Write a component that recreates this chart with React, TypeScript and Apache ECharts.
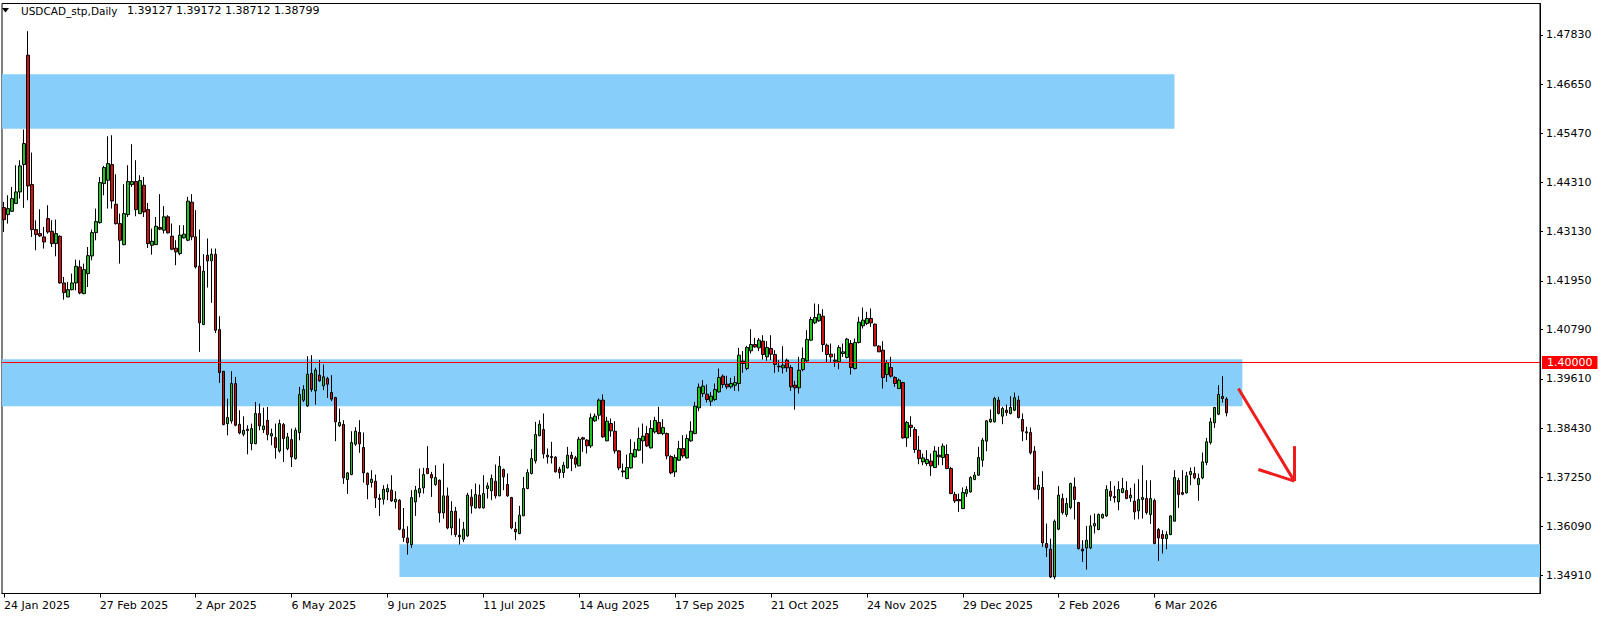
import React, { useEffect, useRef } from "react";
import * as echarts from "echarts";

// ---- Data ----
const SYMBOL = "USDCAD_stp,Daily";
const START_DATE = "2025-01-24";
const HOLIDAYS = ["2025-12-25", "2026-01-01"];
const TOTAL_SLOTS = 385; // bars + empty right margin (chart shift)
const LABEL_STEP = 24;
const MONTHS = ["Jan", "Feb", "Mar", "Apr", "May", "Jun", "Jul", "Aug", "Sep", "Oct", "Nov", "Dec"];

const OPEN = [
  1.43702, 1.43534, 1.43614, 1.43798, 1.44076, 1.4473, 1.47344, 1.44252, 1.43176, 1.4308,
  1.43001, 1.43439, 1.43136, 1.42841, 1.43016, 1.41901, 1.41566, 1.41741, 1.41901, 1.42283,
  1.41646, 1.42124, 1.42546, 1.43104, 1.43343, 1.44276, 1.44355, 1.4473, 1.43782, 1.43319,
  1.42817, 1.43534, 1.44252, 1.44324, 1.43558, 1.44236, 1.43654, 1.42801, 1.42817, 1.43226,
  1.43162, 1.43481, 1.43019, 1.42732, 1.42604, 1.42979, 1.42923, 1.43832, 1.43003, 1.42301,
  1.40907, 1.42564, 1.42429, 1.42588, 1.40787, 1.39791, 1.3854, 1.38603, 1.39496, 1.38524,
  1.38285, 1.38404, 1.38061, 1.38061, 1.38779, 1.38396, 1.38619, 1.38245, 1.38205, 1.37886,
  1.38516, 1.37942, 1.38157, 1.37703, 1.38324, 1.39098, 1.38962, 1.39737, 1.39323, 1.39697,
  1.39442, 1.39618, 1.39283, 1.39163, 1.38486, 1.38518, 1.37203, 1.37322, 1.38048, 1.38327,
  1.37968, 1.37354, 1.37131, 1.37163, 1.36756, 1.36733, 1.36908, 1.36948, 1.36669, 1.36709,
  1.36015, 1.35808, 1.35649, 1.36669, 1.36884, 1.37004, 1.37466, 1.37322, 1.37083, 1.37187,
  1.36406, 1.36812, 1.36047, 1.36446, 1.35872, 1.35777, 1.35857, 1.36781, 1.36526, 1.36829,
  1.36526, 1.36988, 1.36932, 1.37164, 1.36813, 1.37443, 1.37084, 1.36773, 1.36016, 1.35912,
  1.36335, 1.36988, 1.37347, 1.3765, 1.38248, 1.38399, 1.37785, 1.37753, 1.37737, 1.37451,
  1.37371, 1.37482, 1.37785, 1.37721, 1.3753, 1.382, 1.38144, 1.38008, 1.38606, 1.38742,
  1.391, 1.38128, 1.38542, 1.38358, 1.37888, 1.37409, 1.37226, 1.37481, 1.37744, 1.37904,
  1.38127, 1.38302, 1.37959, 1.38342, 1.38565, 1.38302, 1.38302, 1.37752, 1.37386, 1.37664,
  1.37943, 1.3772, 1.38127, 1.38302, 1.38916, 1.39258, 1.39243, 1.39075, 1.39115, 1.39298,
  1.39673, 1.39482, 1.39418, 1.39458, 1.39498, 1.40032, 1.39856, 1.40279, 1.4043, 1.4035,
  1.4051, 1.40135, 1.40334, 1.40191, 1.39912, 1.39872, 1.40055, 1.3988, 1.39458, 1.39394,
  1.39832, 1.40039, 1.40534, 1.40948, 1.40996, 1.41107, 1.40414, 1.40199, 1.40031, 1.40016,
  1.40215, 1.40119, 1.40454, 1.39856, 1.40478, 1.40876, 1.40932, 1.41052, 1.40916, 1.4039,
  1.40295, 1.39713, 1.3988, 1.39641, 1.39378, 1.39521, 1.38198, 1.38501, 1.38398, 1.37903,
  1.37625, 1.37586, 1.37642, 1.3749, 1.37785, 1.37729, 1.37801, 1.37466, 1.36845, 1.36725,
  1.3651, 1.36868, 1.36908, 1.37203, 1.37307, 1.37665, 1.3812, 1.38582, 1.38582, 1.391,
  1.38718, 1.38861, 1.38781, 1.38861, 1.391, 1.38638, 1.38343, 1.38327, 1.37881, 1.36964,
  1.37012, 1.35673, 1.35538, 1.34876, 1.36016, 1.36749, 1.36366, 1.36534, 1.37028, 1.36653,
  1.35537, 1.35569, 1.35569, 1.36095, 1.36008, 1.36286, 1.36334, 1.36924, 1.36797, 1.36669,
  1.36892, 1.3694, 1.36765, 1.36685, 1.36454, 1.36725, 1.36749, 1.36366, 1.36701, 1.36008,
  1.35888, 1.35792, 1.35888, 1.36207, 1.37179, 1.36892, 1.36884, 1.37323, 1.37346, 1.37083,
  1.37243, 1.3761, 1.38088, 1.38558, 1.38765, 1.39188, 1.39127,
];

const HIGH = [
  1.43837, 1.43997, 1.44196, 1.44714, 1.44834, 1.45567, 1.47918, 1.45017, 1.43399, 1.43662,
  1.4324, 1.43758, 1.43399, 1.43415, 1.4304, 1.42044, 1.41925, 1.42124, 1.42459, 1.42443,
  1.42363, 1.42761, 1.43176, 1.43678, 1.44435, 1.44698, 1.45407, 1.45431, 1.44499, 1.43558,
  1.4426, 1.44714, 1.45216, 1.44834, 1.44475, 1.44435, 1.43813, 1.432, 1.43479, 1.44023,
  1.43736, 1.43521, 1.43322, 1.42923, 1.43282, 1.43282, 1.43959, 1.44023, 1.4364, 1.43178,
  1.42588, 1.42963, 1.42724, 1.42724, 1.41106, 1.39791, 1.39137, 1.39791, 1.39655, 1.38858,
  1.38715, 1.385, 1.3854, 1.39058, 1.39018, 1.38922, 1.38938, 1.3842, 1.3854, 1.38635,
  1.38556, 1.38316, 1.3842, 1.38444, 1.39416, 1.39456, 1.4015, 1.40176, 1.39873, 1.40056,
  1.39952, 1.39658, 1.39697, 1.39179, 1.389, 1.38621, 1.37386, 1.38358, 1.38454, 1.38621,
  1.38327, 1.3737, 1.37426, 1.37322, 1.36852, 1.37067, 1.37091, 1.37306, 1.36924, 1.36733,
  1.36525, 1.36087, 1.36948, 1.37051, 1.37466, 1.37482, 1.38, 1.37386, 1.37545, 1.37203,
  1.37585, 1.37012, 1.36685, 1.36549, 1.36271, 1.36191, 1.36885, 1.36972, 1.37108, 1.37084,
  1.37307, 1.37132, 1.37323, 1.37562, 1.37761, 1.37466, 1.37347, 1.36789, 1.36191, 1.36574,
  1.37267, 1.37451, 1.37929, 1.38582, 1.38622, 1.38781, 1.37945, 1.38104, 1.37761, 1.37506,
  1.37626, 1.37984, 1.37865, 1.37769, 1.38224, 1.38224, 1.38168, 1.38781, 1.38781, 1.3914,
  1.39236, 1.38702, 1.38662, 1.38597, 1.37904, 1.37585, 1.378, 1.38167, 1.38103, 1.38446,
  1.38541, 1.38485, 1.38621, 1.38701, 1.3894, 1.38645, 1.38326, 1.37784, 1.378, 1.38127,
  1.38262, 1.38278, 1.38597, 1.39059, 1.39498, 1.39577, 1.39474, 1.39298, 1.39498, 1.39856,
  1.39713, 1.39681, 1.39633, 1.39673, 1.4035, 1.40271, 1.40398, 1.40797, 1.40589, 1.40589,
  1.40653, 1.4051, 1.40653, 1.40295, 1.40055, 1.4039, 1.40095, 1.39936, 1.39561, 1.40135,
  1.40358, 1.40773, 1.41092, 1.4141, 1.41394, 1.41275, 1.40454, 1.40454, 1.40215, 1.40414,
  1.40454, 1.40589, 1.40534, 1.40573, 1.41092, 1.41315, 1.41211, 1.41291, 1.40932, 1.40414,
  1.4051, 1.40055, 1.40135, 1.39673, 1.39617, 1.39537, 1.38605, 1.38716, 1.38461, 1.38246,
  1.37824, 1.37905, 1.37825, 1.38, 1.37984, 1.38064, 1.3804, 1.37506, 1.36908, 1.36868,
  1.37012, 1.37044, 1.37283, 1.37386, 1.37984, 1.38199, 1.38622, 1.38877, 1.3918, 1.3918,
  1.38941, 1.38996, 1.39196, 1.39283, 1.39204, 1.38781, 1.38462, 1.38447, 1.38, 1.37267,
  1.37402, 1.36151, 1.35792, 1.36247, 1.37044, 1.36868, 1.36765, 1.37131, 1.37251, 1.36669,
  1.35752, 1.36095, 1.3635, 1.3639, 1.3639, 1.3639, 1.37068, 1.37163, 1.37052, 1.37163,
  1.37243, 1.37163, 1.37004, 1.37107, 1.37211, 1.37546, 1.37187, 1.37187, 1.36749, 1.36047,
  1.35992, 1.35968, 1.3635, 1.37426, 1.37243, 1.37426, 1.37386, 1.3749, 1.37506, 1.37346,
  1.37849, 1.38199, 1.38677, 1.3894, 1.39459, 1.39674, 1.39172,
];

const LOW = [
  1.4312, 1.43319, 1.43598, 1.43798, 1.43917, 1.43694, 1.43877, 1.43001, 1.42682, 1.43001,
  1.42722, 1.4308, 1.42761, 1.42538, 1.41885, 1.41502, 1.41566, 1.41725, 1.41725, 1.4163,
  1.4163, 1.41805, 1.42443, 1.42921, 1.43319, 1.43997, 1.43678, 1.43678, 1.43295, 1.42363,
  1.42801, 1.43479, 1.44196, 1.43495, 1.43558, 1.43479, 1.42738, 1.42578, 1.42817, 1.43162,
  1.43083, 1.43083, 1.42684, 1.42325, 1.42564, 1.42963, 1.42899, 1.42923, 1.42246, 1.40253,
  1.40891, 1.41791, 1.41425, 1.40707, 1.39512, 1.385, 1.38261, 1.3854, 1.38476, 1.38285,
  1.38237, 1.37806, 1.37902, 1.38045, 1.3838, 1.38316, 1.38141, 1.38022, 1.37703, 1.37846,
  1.37623, 1.37902, 1.37503, 1.37679, 1.38141, 1.39058, 1.38938, 1.39299, 1.38996, 1.39538,
  1.39339, 1.39155, 1.39076, 1.38119, 1.38462, 1.37099, 1.3686, 1.37306, 1.38008, 1.3784,
  1.37131, 1.36733, 1.37012, 1.36525, 1.36334, 1.36605, 1.36709, 1.36669, 1.36509, 1.35991,
  1.35712, 1.3541, 1.35569, 1.36334, 1.3678, 1.36868, 1.3733, 1.36788, 1.37051, 1.36175,
  1.3627, 1.36015, 1.35872, 1.35832, 1.35649, 1.35713, 1.35833, 1.3639, 1.3651, 1.3651,
  1.3651, 1.36749, 1.36709, 1.36749, 1.36805, 1.36948, 1.36789, 1.36016, 1.35753, 1.35896,
  1.36335, 1.36972, 1.37323, 1.37586, 1.3824, 1.37706, 1.37586, 1.37586, 1.37371, 1.37227,
  1.37243, 1.37466, 1.37403, 1.37482, 1.37522, 1.37865, 1.37825, 1.37961, 1.38582, 1.38638,
  1.382, 1.3812, 1.38224, 1.37824, 1.37425, 1.37266, 1.3721, 1.37465, 1.37728, 1.3788,
  1.37585, 1.37983, 1.37943, 1.38302, 1.38286, 1.38262, 1.37688, 1.3733, 1.37266, 1.37649,
  1.3772, 1.37704, 1.38103, 1.38286, 1.38836, 1.39179, 1.39043, 1.38964, 1.39083, 1.39282,
  1.39394, 1.39362, 1.39378, 1.39322, 1.39314, 1.39753, 1.39816, 1.40215, 1.4035, 1.40271,
  1.40071, 1.4004, 1.40055, 1.39753, 1.39776, 1.39737, 1.39776, 1.39322, 1.38876, 1.39258,
  1.39792, 1.40016, 1.40518, 1.40916, 1.40972, 1.40255, 1.39992, 1.39992, 1.39896, 1.3984,
  1.40135, 1.40095, 1.39713, 1.39832, 1.40454, 1.40813, 1.40892, 1.40852, 1.4039, 1.40255,
  1.39378, 1.39537, 1.39641, 1.39418, 1.39378, 1.38182, 1.37983, 1.38222, 1.3784, 1.37569,
  1.37545, 1.3753, 1.37291, 1.37482, 1.37546, 1.37546, 1.3745, 1.36853, 1.36645, 1.3643,
  1.36494, 1.36789, 1.36892, 1.37187, 1.37291, 1.37506, 1.37881, 1.38558, 1.38566, 1.38757,
  1.38526, 1.38726, 1.38757, 1.38837, 1.38662, 1.3812, 1.38144, 1.37801, 1.36948, 1.36725,
  1.35593, 1.35354, 1.34852, 1.3482, 1.35992, 1.36366, 1.36311, 1.36494, 1.36247, 1.35529,
  1.35234, 1.35051, 1.35537, 1.35912, 1.35992, 1.36271, 1.3631, 1.36693, 1.36653, 1.3647,
  1.36876, 1.36733, 1.36669, 1.36247, 1.36255, 1.36271, 1.36366, 1.36143, 1.35657, 1.35258,
  1.35434, 1.35537, 1.35872, 1.36207, 1.36526, 1.36828, 1.36868, 1.37068, 1.37211, 1.36693,
  1.37211, 1.37546, 1.3804, 1.38438, 1.38741, 1.39044, 1.38712,
];

const CLOSE = [
  1.43415, 1.43678, 1.43917, 1.44076, 1.44698, 1.45232, 1.4422, 1.43176, 1.43056, 1.43024,
  1.42881, 1.4312, 1.42841, 1.4308, 1.41901, 1.4167, 1.41741, 1.41901, 1.42299, 1.41662,
  1.42219, 1.42554, 1.43104, 1.43367, 1.443, 1.44658, 1.44754, 1.43861, 1.43319, 1.42921,
  1.43558, 1.44324, 1.44324, 1.43654, 1.44347, 1.43598, 1.42841, 1.42897, 1.43256, 1.43186,
  1.43481, 1.43098, 1.42708, 1.42644, 1.43043, 1.43067, 1.43856, 1.43003, 1.42285, 1.40947,
  1.42182, 1.42429, 1.42588, 1.40771, 1.39759, 1.38516, 1.38683, 1.39496, 1.385, 1.38316,
  1.3838, 1.38372, 1.3842, 1.38779, 1.38484, 1.38484, 1.38277, 1.383, 1.37966, 1.3854,
  1.38181, 1.38221, 1.37743, 1.3838, 1.39233, 1.39352, 1.39719, 1.39355, 1.39817, 1.39562,
  1.39658, 1.39482, 1.39124, 1.38582, 1.38566, 1.37243, 1.37362, 1.38087, 1.38358, 1.38056,
  1.37362, 1.37083, 1.37211, 1.36764, 1.36725, 1.36972, 1.36988, 1.36693, 1.36733, 1.36015,
  1.35816, 1.35688, 1.36772, 1.36948, 1.36988, 1.37322, 1.37346, 1.37243, 1.37251, 1.36406,
  1.36812, 1.36047, 1.36446, 1.35888, 1.35833, 1.36016, 1.36829, 1.36574, 1.36845, 1.36526,
  1.36869, 1.37052, 1.37227, 1.36813, 1.37522, 1.37267, 1.36813, 1.36048, 1.35952, 1.36351,
  1.36988, 1.37371, 1.37706, 1.38279, 1.38526, 1.37817, 1.37745, 1.37729, 1.37387, 1.37371,
  1.37546, 1.37785, 1.37706, 1.3757, 1.38168, 1.38168, 1.38008, 1.38678, 1.38718, 1.391,
  1.38224, 1.38598, 1.38367, 1.37888, 1.37481, 1.37386, 1.37489, 1.37824, 1.3792, 1.38183,
  1.38238, 1.38007, 1.38422, 1.38613, 1.38302, 1.38446, 1.37768, 1.37362, 1.37728, 1.37943,
  1.37768, 1.38183, 1.38358, 1.38956, 1.3941, 1.39434, 1.39115, 1.39195, 1.39354, 1.39641,
  1.39474, 1.39418, 1.39498, 1.39522, 1.40175, 1.39976, 1.40358, 1.4043, 1.40374, 1.40534,
  1.40191, 1.40358, 1.40199, 1.39952, 1.39896, 1.39936, 1.39872, 1.39418, 1.39394, 1.39816,
  1.40095, 1.4055, 1.41028, 1.41076, 1.41155, 1.4043, 1.40191, 1.40135, 1.40055, 1.40358,
  1.40255, 1.40558, 1.3988, 1.40478, 1.40964, 1.41012, 1.41052, 1.40948, 1.40398, 1.40255,
  1.39641, 1.39992, 1.39673, 1.39498, 1.39577, 1.38198, 1.38565, 1.38445, 1.37919, 1.37704,
  1.3772, 1.37681, 1.3753, 1.37881, 1.37745, 1.38, 1.37466, 1.36868, 1.36693, 1.36693,
  1.36892, 1.36964, 1.37251, 1.37307, 1.37729, 1.38144, 1.38606, 1.38646, 1.3914, 1.38781,
  1.38901, 1.38805, 1.38925, 1.39156, 1.38686, 1.38359, 1.38319, 1.37841, 1.36972, 1.37068,
  1.35689, 1.35577, 1.34876, 1.36207, 1.36829, 1.36414, 1.36629, 1.37108, 1.36725, 1.35553,
  1.35497, 1.35752, 1.36095, 1.36151, 1.36366, 1.36366, 1.36964, 1.36805, 1.36765, 1.36964,
  1.36988, 1.36749, 1.36828, 1.3643, 1.36725, 1.36773, 1.36414, 1.36749, 1.35673, 1.35808,
  1.35792, 1.35888, 1.36334, 1.37251, 1.36844, 1.36852, 1.37291, 1.37394, 1.37243, 1.37227,
  1.37625, 1.38104, 1.38582, 1.38925, 1.39235, 1.3914, 1.38799,
];

const PRICE_TICKS = [1.3491, 1.3609, 1.3725, 1.3843, 1.3961, 1.4079, 1.4195, 1.4313, 1.4431, 1.4547, 1.4665, 1.4783];
const Y_MIN = 1.344795;
const Y_MAX = 1.485795;

// zones: [low, high] prices; x ends given as bar indices
const SUPPLY_ZONE = [1.45584, 1.46891];
const SUPPLY_END = 293;
const PIVOT_ZONE = [1.38957, 1.4008];
const PIVOT_END = 310;
const DEMAND_ZONE = [1.34871, 1.35659];
const DEMAND_START = 99;
const LEVEL = 1.4;

// arrow drawn as trend lines: [bar index, price]
const ARROW_START: [number, number] = [309, 1.3938];
const ARROW_TIP: [number, number] = [323, 1.37165];
const ARROW_WING_A: [number, number] = [314, 1.37444];
const ARROW_WING_B: [number, number] = [323, 1.38001];

const FONT = "DejaVu Sans";

function buildDates(): string[] {
  const out: string[] = [];
  const [y, m, d] = START_DATE.split("-").map(Number);
  const dt = new Date(Date.UTC(y, m - 1, d));
  while (out.length < TOTAL_SLOTS) {
    const wd = dt.getUTCDay();
    const iso = dt.toISOString().slice(0, 10);
    if (wd !== 0 && wd !== 6 && !HOLIDAYS.includes(iso)) out.push(iso);
    dt.setUTCDate(dt.getUTCDate() + 1);
  }
  return out;
}

function fmtDate(iso: string): string {
  const [y, m, d] = iso.split("-");
  return `${Number(d)} ${MONTHS[Number(m) - 1]} ${y}`;
}

export default function App() {
  const ref = useRef<HTMLDivElement>(null);

  useEffect(() => {
    if (!ref.current) return;
    const chart = echarts.init(ref.current, null, { renderer: "svg" });
    const dates = buildDates();
    const n = OPEN.length;
    const candles = OPEN.map((o, i) => [o, CLOSE[i], LOW[i], HIGH[i]]);
    const showIdx = (i: number) => i % LABEL_STEP === 0 && i < n;
    const last = n - 1;
    const titleNums = [OPEN[last], HIGH[last], LOW[last], CLOSE[last]].map((v) => v.toFixed(5)).join(" ");
    const arrowStyle = { color: "#f01c1c", width: 3, type: "solid" as const };
    const pt = (p: [number, number]) => ({ coord: [dates[p[0]], p[1]] });

    chart.setOption({
      animation: false,
      backgroundColor: "#ffffff",
      textStyle: { fontFamily: FONT },
      grid: {
        left: 2,
        top: 3.5,
        width: 1538,
        height: 590,
        show: true,
        borderColor: "#000000",
        borderWidth: 1,
        backgroundColor: "#ffffff",
        containLabel: false,
      },
      xAxis: {
        type: "category",
        data: dates,
        boundaryGap: true,
        axisLine: { show: true, lineStyle: { color: "#000000", width: 1 } },
        axisTick: {
          show: true,
          alignWithLabel: true,
          interval: (i: number) => showIdx(i),
          length: 4,
          lineStyle: { color: "#000000" },
        },
        axisLabel: {
          interval: (i: number) => showIdx(i),
          formatter: (v: string) => fmtDate(v),
          align: "left",
          margin: 5,
          color: "#000000",
          fontFamily: FONT,
          fontSize: 11,
          lineHeight: 13,
        },
        splitLine: { show: false },
      },
      yAxis: {
        type: "value",
        position: "right",
        min: Y_MIN,
        max: Y_MAX,
        axisLine: { show: true, lineStyle: { color: "#000000", width: 1 } },
        axisTick: {
          show: true,
          length: 3,
          lineStyle: { color: "#000000" },
          customValues: PRICE_TICKS,
        },
        axisLabel: {
          customValues: PRICE_TICKS,
          formatter: (v: number) => v.toFixed(5),
          color: "#000000",
          fontFamily: FONT,
          fontSize: 11,
          margin: 6,
        },
        splitLine: { show: false },
      },
      graphic: [
        {
          type: "polygon",
          shape: { points: [[2, 8], [9, 8], [5.5, 12.5]] },
          style: { fill: "#000000" },
          z: 100,
        },
        {
          type: "text",
          left: 21,
          top: 5.5,
          style: { text: SYMBOL, fill: "#000000", font: `10.5px "${FONT}"` },
          z: 100,
        },
        {
          type: "text",
          left: 127,
          top: 5,
          style: { text: titleNums, fill: "#000000", font: `11px "${FONT}"` },
          z: 100,
        },
      ],
      series: [
        {
          type: "candlestick",
          data: candles,
          barWidth: 3,
          itemStyle: {
            color: "#1fc41f",
            color0: "#d41010",
            borderColor: "#000000",
            borderColor0: "#000000",
            borderWidth: 1,
          },
          markArea: {
            silent: true,
            itemStyle: { color: "#87cefa", opacity: 1, borderWidth: 0 },
            data: [
              [{ yAxis: SUPPLY_ZONE[1] }, { xAxis: dates[SUPPLY_END], yAxis: SUPPLY_ZONE[0] }],
              [{ yAxis: PIVOT_ZONE[1] }, { xAxis: dates[PIVOT_END], yAxis: PIVOT_ZONE[0] }],
              [{ xAxis: dates[DEMAND_START], yAxis: DEMAND_ZONE[1] }, { yAxis: DEMAND_ZONE[0] }],
            ],
          },
          markLine: {
            silent: true,
            symbol: ["none", "none"],
            data: [
              {
                yAxis: LEVEL,
                lineStyle: { color: "#ff0000", width: 1, type: "solid" },
                label: {
                  show: true,
                  position: "end",
                  distance: 2,
                  formatter: LEVEL.toFixed(5),
                  color: "#ffffff",
                  backgroundColor: "#ff0000",
                  padding: [0, 5, 0, 5],
                  fontFamily: FONT,
                  fontSize: 11,
                  lineHeight: 13,
                },
              },
              {
                yAxis: CLOSE[last],
                lineStyle: { opacity: 0, width: 0 },
                label: {
                  show: true,
                  position: "end",
                  distance: 2,
                  formatter: CLOSE[last].toFixed(5),
                  color: "#ffffff",
                  backgroundColor: "#000000",
                  padding: [0, 6, 0, 5],
                  fontFamily: FONT,
                  fontSize: 11,
                  lineHeight: 13,
                },
              },
              [{ ...pt(ARROW_START), lineStyle: arrowStyle, label: { show: false } }, pt(ARROW_TIP)],
              [{ ...pt(ARROW_WING_A), lineStyle: arrowStyle, label: { show: false } }, pt(ARROW_TIP)],
              [{ ...pt(ARROW_WING_B), lineStyle: arrowStyle, label: { show: false } }, pt(ARROW_TIP)],
            ],
          },
        },
      ],
    });

    return () => chart.dispose();
  }, []);

  return (
    <div
      ref={ref}
      style={{ position: "absolute", left: 0, top: 0, width: 1604, height: 617, background: "#ffffff" }}
    />
  );
}
